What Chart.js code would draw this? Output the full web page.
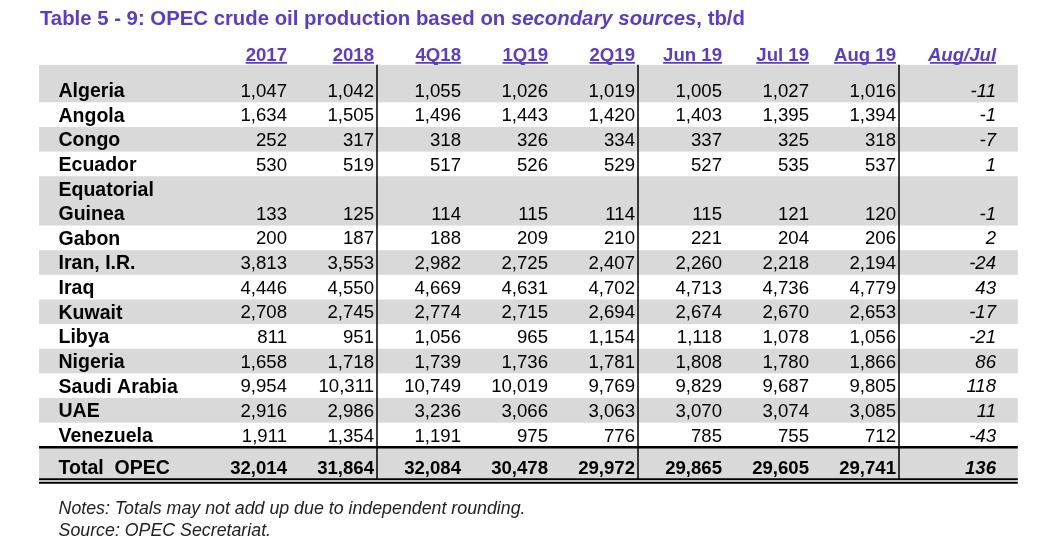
<!DOCTYPE html>
<html>
<head>
<meta charset="utf-8">
<script src="https://cdn.jsdelivr.net/npm/chart.js@4.4.0/dist/chart.umd.min.js"></script>
<style>
  html, body { margin: 0; padding: 0; background: #fff; }
  #wrap { position: relative; width: 1061px; height: 559px; }
</style>
</head>
<body>
<div id="wrap"><canvas id="opecTable"></canvas></div>
<script>
// table content
const countries = ['Algeria', 'Angola', 'Congo', 'Ecuador', 'Equatorial\nGuinea', 'Gabon', 'Iran, I.R.', 'Iraq',
  'Kuwait', 'Libya', 'Nigeria', 'Saudi Arabia', 'UAE', 'Venezuela'];
const periods = ['2017', '2018', '4Q18', '1Q19', '2Q19', 'Jun 19', 'Jul 19', 'Aug 19'];
const changeLabel = 'Aug/Jul';
const totalLabel = 'Total  OPEC';

const prod2017 = [1047, 1634, 252, 530, 133, 200, 3813, 4446, 2708, 811, 1658, 9954, 2916, 1911];
const prod2018 = [1042, 1505, 317, 519, 125, 187, 3553, 4550, 2745, 951, 1718, 10311, 2986, 1354];
const prod4Q18 = [1055, 1496, 318, 517, 114, 188, 2982, 4669, 2774, 1056, 1739, 10749, 3236, 1191];
const prod1Q19 = [1026, 1443, 326, 526, 115, 209, 2725, 4631, 2715, 965, 1736, 10019, 3066, 975];
const prod2Q19 = [1019, 1420, 334, 529, 114, 210, 2407, 4702, 2694, 1154, 1781, 9769, 3063, 776];
const prodJun19 = [1005, 1403, 337, 527, 115, 221, 2260, 4713, 2674, 1118, 1808, 9829, 3070, 785];
const prodJul19 = [1027, 1395, 325, 535, 121, 204, 2218, 4736, 2670, 1078, 1780, 9687, 3074, 755];
const prodAug19 = [1016, 1394, 318, 537, 120, 206, 2194, 4779, 2653, 1056, 1866, 9805, 3085, 712];
const changeAugJul = [-11, -1, -7, 1, -1, 2, -24, 43, -17, -21, 86, 118, 11, -43];
const totals = [32014, 31864, 32084, 30478, 29972, 29865, 29605, 29741];
const totalChange = 136;

const titleParts = [
  ['Table 5 - 9: OPEC crude oil production based on ', false],
  ['secondary sources', true],
  [', tb/d', false]
];
const notes = ['Notes: Totals may not add up due to independent rounding.', 'Source: OPEC Secretariat.'];

// look
const PURPLE = '#5b3cc6';
const GRAY = '#d9d9d9';
const FONT = '"Liberation Sans", Arial, sans-serif';

// x scale unit = one column (right edge of column i sits at i), y unit = one text line
const COL_W = 87, COL0 = 287, LINE_H = 24.64, LINE0 = 90;
const W = 1061, H = 559;
const CHANGE_X = 8.15;
const SEPARATORS = [1, 4, 7];

let lineNo = 0;
const rowLine = countries.map(name => {
  lineNo += name.split('\n').length;
  return lineNo - 1;
});
const totalLine = lineNo - 1 + 1.32;

const periodValues = [prod2017, prod2018, prod4Q18, prod1Q19, prod2Q19, prodJun19, prodJul19, prodAug19];

const datasets = periods.map((p, c) => ({
  label: p,
  data: periodValues[c].map((v, i) => ({x: c, y: rowLine[i], v: v}))
    .concat([{x: c, y: totalLine, v: totals[c], total: true}]),
  pointRadius: 0
}));
datasets.push({
  label: changeLabel,
  change: true,
  data: changeAugJul.map((v, i) => ({x: CHANGE_X, y: rowLine[i], v: v}))
    .concat([{x: CHANGE_X, y: totalLine, v: totalChange, total: true}]),
  pointRadius: 0
});

function fmt(v) {
  return v.toLocaleString('en-US');
}

function setFont(ctx, size, bold, italic) {
  ctx.font = (italic ? 'italic ' : '') + (bold ? 'bold ' : '') + size + 'px ' + FONT;
}

// draws text so its cap height is centred on cy
function text(ctx, s, px, cy, size) {
  ctx.fillText(s, px, cy + size * 0.358);
}

const tablePlugin = {
  id: 'tableCells',
  beforeDatasetsDraw(chart) {
    const {ctx, scales: {x, y}} = chart;
    const left = x.getPixelForValue(-2.85), right = x.getPixelForValue(8.40);
    ctx.save();
    ctx.fillStyle = GRAY;
    countries.forEach((name, i) => {
      if (i % 2) return;
      const n = name.split('\n').length;
      const top = i === 0 ? y.getPixelForValue(-1.02) : y.getPixelForValue(rowLine[i] - n + 0.5);
      const bottom = y.getPixelForValue(rowLine[i] + 0.5);
      ctx.fillRect(left, top, right - left, bottom - top);
    });
    // total row
    const tTop = y.getPixelForValue(rowLine[rowLine.length - 1] + 0.5);
    const tBot = y.getPixelForValue(15.8);
    ctx.fillRect(left, tTop, right - left, tBot - tTop);

    // rules
    ctx.strokeStyle = '#000';
    ctx.lineWidth = 2.5;
    ctx.beginPath();
    ctx.moveTo(left, tTop);
    ctx.lineTo(right, tTop);
    ctx.stroke();
    ctx.lineWidth = 2;
    [tBot, tBot + 3.5].forEach(py => {
      ctx.beginPath();
      ctx.moveTo(left, py);
      ctx.lineTo(right, py);
      ctx.stroke();
    });
    ctx.lineWidth = 1.5;
    SEPARATORS.forEach(c => {
      const px = x.getPixelForValue(c) + 3;
      ctx.beginPath();
      ctx.moveTo(px, y.getPixelForValue(-1.02));
      ctx.lineTo(px, tBot);
      ctx.stroke();
    });
    ctx.restore();
  },
  afterDatasetsDraw(chart) {
    const {ctx, scales: {x, y}} = chart;
    const labelX = x.getPixelForValue(-2.626);
    ctx.save();

    // title
    ctx.fillStyle = PURPLE;
    ctx.textAlign = 'left';
    let tx = x.getPixelForValue(-2.84);
    const ty = y.getPixelForValue(-2.93);
    titleParts.forEach(([s, it]) => {
      setFont(ctx, 20.35, true, it);
      text(ctx, s, tx, ty, 20.35);
      tx += ctx.measureText(s).width;
    });

    // column headers
    const hy = y.getPixelForValue(-1.46);
    ctx.textAlign = 'right';
    ctx.strokeStyle = PURPLE;
    ctx.lineWidth = 1.8;
    chart.data.datasets.forEach((ds, d) => {
      const meta = chart.getDatasetMeta(d);
      const px = meta.data[0].x;
      setFont(ctx, 18.6, true, !!ds.change);
      text(ctx, ds.label, px, hy, 18.6);
      const w = ctx.measureText(ds.label).width;
      ctx.beginPath();
      ctx.moveTo(px - w - (ds.change ? -2 : 0), hy + 8.8);
      ctx.lineTo(px, hy + 8.8);
      ctx.stroke();
    });

    // country labels
    ctx.fillStyle = '#000';
    ctx.textAlign = 'left';
    setFont(ctx, 19.5, true, false);
    countries.forEach((name, i) => {
      const parts = name.split('\n');
      parts.forEach((s, k) => {
        text(ctx, s, labelX, y.getPixelForValue(rowLine[i] - (parts.length - 1 - k)), 19.5);
      });
    });
    text(ctx, totalLabel, labelX, y.getPixelForValue(totalLine), 19.5);

    // cell values
    ctx.textAlign = 'right';
    chart.data.datasets.forEach((ds, d) => {
      const meta = chart.getDatasetMeta(d);
      meta.data.forEach((el, j) => {
        const pt = ds.data[j];
        setFont(ctx, 18.6, !!pt.total, !!ds.change);
        text(ctx, fmt(pt.v), el.x, el.y, 18.6);
      });
    });

    // notes
    ctx.textAlign = 'left';
    ctx.fillStyle = '#222';
    setFont(ctx, 17.8, false, true);
    text(ctx, notes[0], labelX, y.getPixelForValue(16.94), 17.8);
    text(ctx, notes[1], labelX, y.getPixelForValue(17.84), 17.8);
    ctx.restore();
  }
};

new Chart(document.getElementById('opecTable'), {
  type: 'scatter',
  data: {datasets: datasets},
  options: {
    responsive: true,
    maintainAspectRatio: false,
    animation: false,
    events: [],
    layout: {padding: 0},
    scales: {
      x: {type: 'linear', display: false, min: -COL0 / COL_W, max: (W - COL0) / COL_W},
      y: {type: 'linear', display: false, reverse: true, min: -LINE0 / LINE_H, max: (H - LINE0) / LINE_H}
    },
    plugins: {legend: {display: false}, tooltip: {enabled: false}}
  },
  plugins: [tablePlugin]
});
</script>
</body>
</html>
